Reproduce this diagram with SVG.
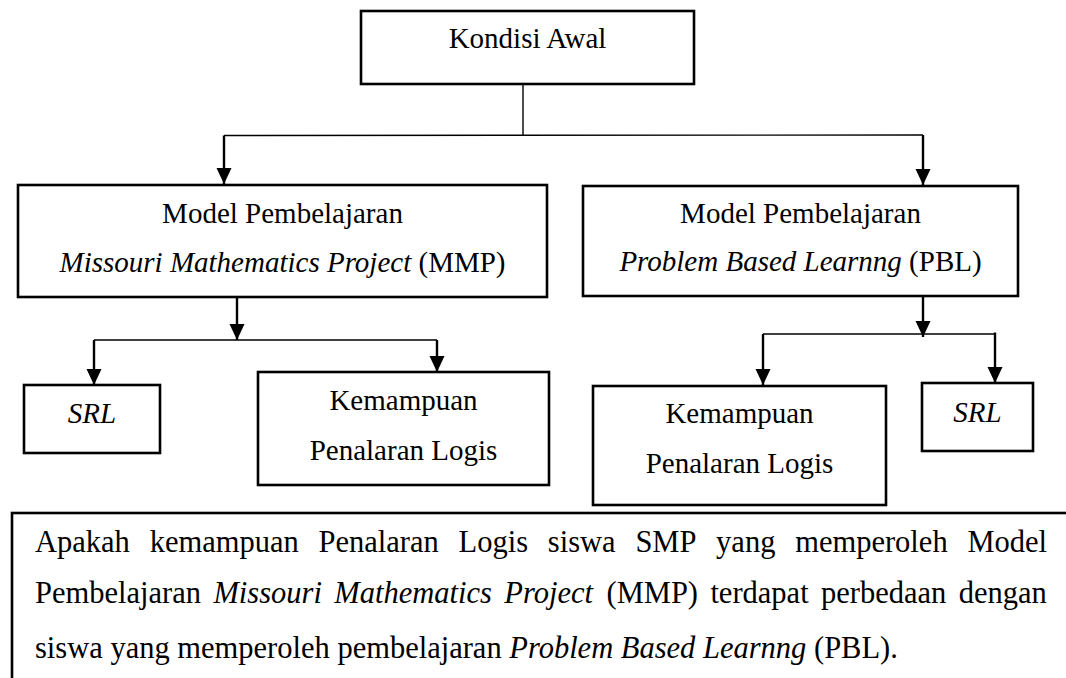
<svg xmlns="http://www.w3.org/2000/svg" width="1066" height="678" viewBox="0 0 1066 678">
  <defs>
    <style>
      .box { fill: #ffffff; stroke: #000000; stroke-width: 2.6; }
      .t { font-family: "Liberation Serif", "Times New Roman", serif; font-size: 29px; fill: #000000; }
      .p { font-size: 30.5px; }
      .c { text-anchor: middle; }
      .i { font-style: italic; }
      .thin { fill: none; stroke: #000000; stroke-width: 1.4; }
      .arrow { fill: none; stroke: #000000; stroke-width: 2.4; marker-end: url(#ah); }
    </style>
    <marker id="ah" markerUnits="userSpaceOnUse" markerWidth="16" markerHeight="16" refX="16" refY="7.5" orient="auto">
      <path d="M0,0 L16,7.5 L0,15 z" fill="#000000"/>
    </marker>
  </defs>
  <rect width="1066" height="678" fill="#ffffff"/>

  <g id="connectors">
    <line class="thin" x1="523" y1="84" x2="523" y2="135"/>
    <line class="thin" x1="224" y1="135.5" x2="923" y2="135"/>
    <line class="arrow" x1="224" y1="135.5" x2="224" y2="184"/>
    <line class="arrow" x1="923" y1="135" x2="923" y2="185"/>

    <line class="arrow" x1="237" y1="297" x2="237" y2="340"/>
    <line class="thin" x1="94" y1="340" x2="437" y2="340"/>
    <line class="arrow" x1="94" y1="340" x2="94" y2="385"/>
    <line class="arrow" x1="437" y1="340" x2="437" y2="372"/>

    <line class="arrow" x1="923" y1="296" x2="923" y2="337"/>
    <line class="thin" x1="763" y1="334" x2="995" y2="334"/>
    <line class="arrow" x1="763" y1="334" x2="763" y2="385"/>
    <line class="arrow" x1="995" y1="332.5" x2="995" y2="383"/>
  </g>

  <g id="kondisi-awal">
    <rect class="box" x="361" y="11" width="333" height="73"/>
    <text class="t c" x="527.5" y="48">Kondisi Awal</text>
  </g>

  <g id="model-mmp">
    <rect class="box" x="18" y="185" width="529" height="112"/>
    <text class="t c" x="282.5" y="223">Model Pembelajaran</text>
    <text class="t c" x="282.5" y="272"><tspan class="i">Missouri Mathematics Project</tspan> (MMP)</text>
  </g>

  <g id="model-pbl">
    <rect class="box" x="583" y="186" width="435" height="110"/>
    <text class="t c" x="800.5" y="223">Model Pembelajaran</text>
    <text class="t c" x="800.5" y="271"><tspan class="i">Problem Based Learnng</tspan> (PBL)</text>
  </g>

  <g id="srl-mmp">
    <rect class="box" x="24" y="385" width="136" height="68"/>
    <text class="t c i" x="92" y="423">SRL</text>
  </g>

  <g id="penalaran-mmp">
    <rect class="box" x="258" y="372" width="291" height="113"/>
    <text class="t c" x="403.5" y="410">Kemampuan</text>
    <text class="t c" x="403.5" y="460">Penalaran Logis</text>
  </g>

  <g id="penalaran-pbl">
    <rect class="box" x="593" y="386" width="293" height="119"/>
    <text class="t c" x="739.5" y="423">Kemampuan</text>
    <text class="t c" x="739.5" y="473">Penalaran Logis</text>
  </g>

  <g id="srl-pbl">
    <rect class="box" x="922" y="383" width="111" height="68"/>
    <text class="t c i" x="977.5" y="422">SRL</text>
  </g>

  <g id="research-question">
    <rect class="box" x="12" y="513" width="1070" height="200"/>
    <text class="t p" y="552"><tspan x="35">Apakah</tspan><tspan x="149.7">kemampuan</tspan><tspan x="318.5">Penalaran</tspan><tspan x="458.6">Logis</tspan><tspan x="547.8">siswa</tspan><tspan x="635.4">SMP</tspan><tspan x="716.1">yang</tspan><tspan x="795.2">memperoleh</tspan><tspan x="967.4">Model</tspan></text>
    <text class="t p" y="603"><tspan x="35">Pembelajaran</tspan><tspan class="i" x="213.4">Missouri</tspan><tspan class="i" x="334.3">Mathematics</tspan><tspan class="i" x="504.3">Project</tspan><tspan x="606.5">(MMP)</tspan><tspan x="710.4">terdapat</tspan><tspan x="821">perbedaan</tspan><tspan x="958.7">dengan</tspan></text>
    <text class="t p" x="35" y="658">siswa yang memperoleh pembelajaran <tspan class="i">Problem Based Learnng</tspan> (PBL).</text>
  </g>
</svg>
